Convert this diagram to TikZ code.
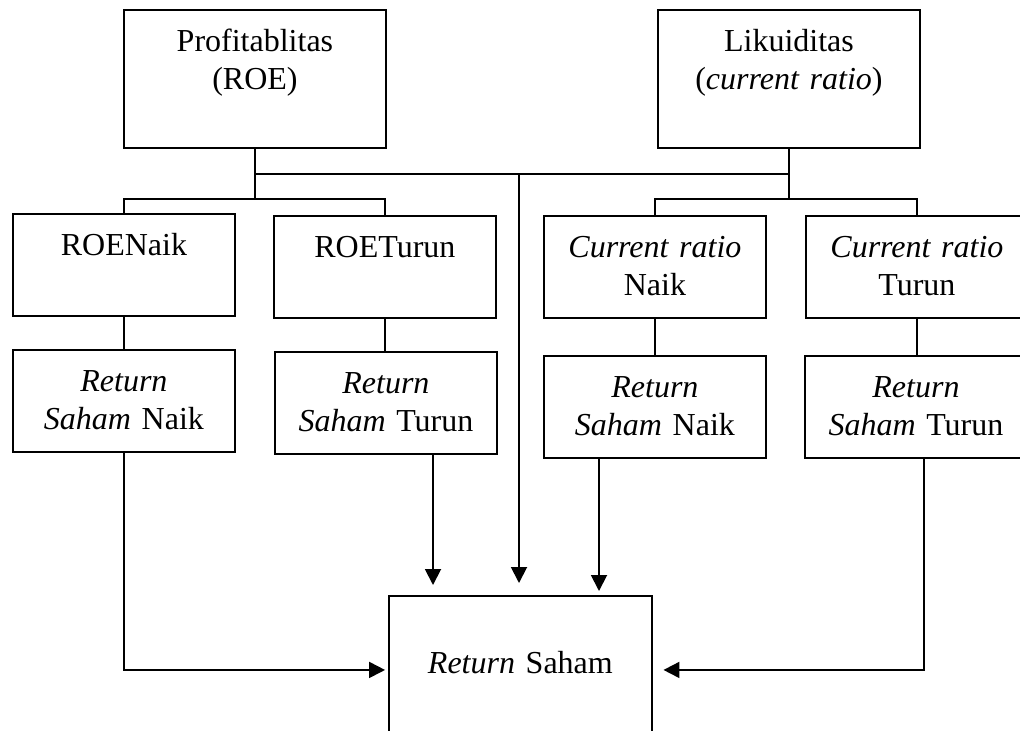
\documentclass[tikz,border=0pt]{standalone}
\usepackage{fontspec}
\setmainfont{Liberation Serif}
\usetikzlibrary{arrows.meta,calc}

\tikzset{
  box/.style={draw, line width=0.7pt, anchor=north west, inner sep=0pt, align=center,
    text height=15.5pt, font=\fontsize{12pt}{14.25pt}\selectfont},
  bigbox/.style={box, text width=98.25pt, text depth=36.25pt},
  smallbox/.style={box, text width=83.25pt, text depth=22.75pt},
  conn/.style={line width=0.7pt},
  arrow/.style={conn, -{Triangle[length=6pt,width=6pt]}}
}

\begin{document}
\begin{tikzpicture}[x=0.375pt,y=-0.375pt]
  \clip (0,0) rectangle (1020,730);
  % top row
  \node[bigbox] (roe) at (123,9) {Profitablitas\\(ROE)};
  \node[bigbox] (lik) at (657,9) {Likuiditas\\(\textit{current ratio})};
  % second row
  \node[smallbox] (roeup) at (12,213) {ROENaik};
  \node[smallbox] (roedown) at (273,215) {ROETurun};
  \node[smallbox] (crup) at (543,215) {\textit{Current ratio}\\Naik};
  \node[smallbox] (crdown) at (805,215) {\textit{Current ratio}\\Turun};
  % third row
  \node[smallbox] (retA) at (12,349) {\textit{Return}\\\textit{Saham} Naik};
  \node[smallbox] (retB) at (274,351) {\textit{Return}\\\textit{Saham} Turun};
  \node[smallbox] (retC) at (543,355) {\textit{Return}\\\textit{Saham} Naik};
  \node[smallbox] (retD) at (804,355) {\textit{Return}\\\textit{Saham} Turun};
  % result
  \node[box, text width=98.6pt, text height=28.9pt, text depth=26.6pt] (ret) at (388,595) {\textit{Return} Saham};

  % forks
  \draw[conn] (roe.south) -- ++(0,50) coordinate (forkL);
  \draw[conn] (roeup.north) |- (forkL) -| (roedown.north);
  \draw[conn] (lik.south) -- ++(0,50) coordinate (forkR);
  \draw[conn] (crup.north) |- (forkR) -| (crdown.north);
  \coordinate (busL) at ($(roe.south)+(0,25)$);
  \coordinate (busR) at ($(lik.south)+(0,25)$);
  \draw[conn] (busL) -- (busR);

  % rows
  \draw[conn] (roeup.south) -- (roeup.south |- retA.north);
  \draw[conn] (roedown.south) -- (roedown.south |- retB.north);
  \draw[conn] (crup.south) -- (crup.south |- retC.north);
  \draw[conn] (crdown.south) -- (crdown.south |- retD.north);

  % arrows into result
  \coordinate (inMid) at (519,583);
  \coordinate (inB) at (433,585);
  \coordinate (inC) at (599,591);
  \draw[arrow] (inMid |- busL) -- (inMid);
  \draw[arrow] (retB.south -| inB) -- (inB);
  \draw[arrow] (retC.south -| inC) -- (inC);
  \draw[arrow] (retA.south) |- ([xshift=-1.1pt]ret.west);
  \draw[arrow] ([xshift=3pt]retD.south) |- ([xshift=4pt]ret.east);
\end{tikzpicture}
\end{document}
